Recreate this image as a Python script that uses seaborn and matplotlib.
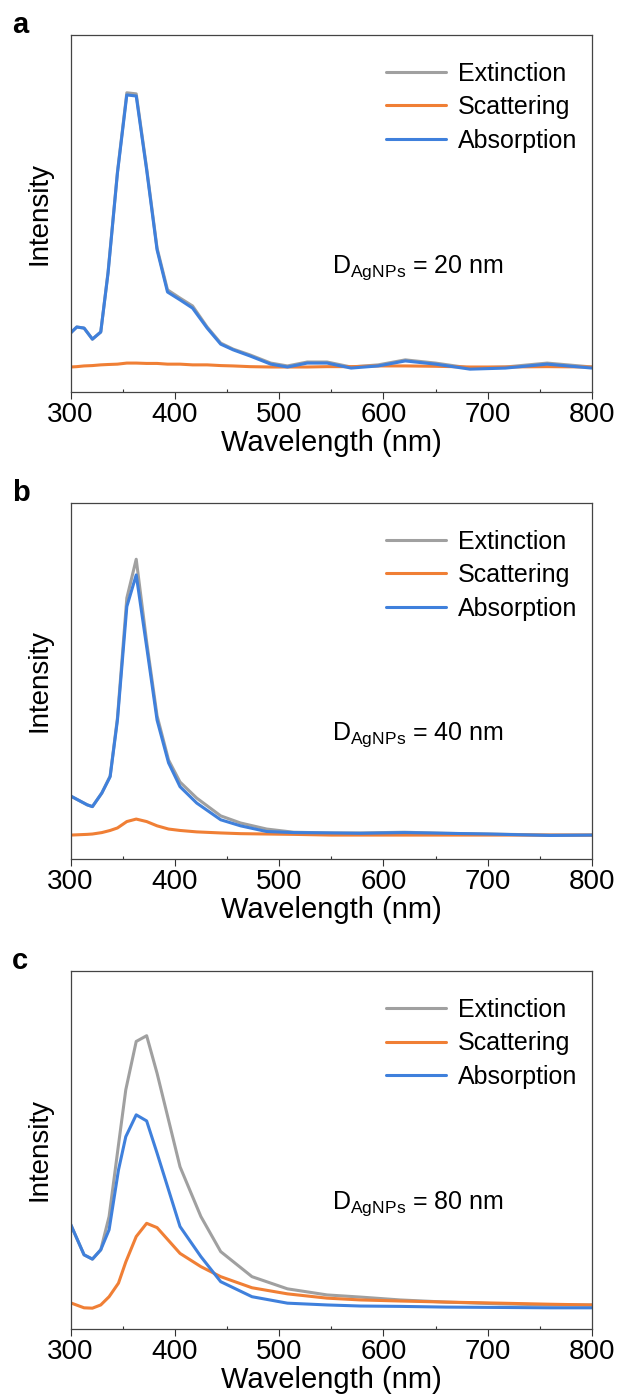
import pandas as pd
import seaborn as sns
import matplotlib.pyplot as plt

# panel a, D = 20 nm
wl_a = [300, 306, 313, 321, 329, 336, 345, 354, 363, 373, 383, 393, 405, 417, 431,
        444, 456, 472, 492, 508, 527, 546, 569, 595, 621, 650, 683, 717, 757, 800]
ext_a = [16.5, 18.2, 17.9, 14.8, 16.8, 33.6, 61.6, 83.8, 83.5, 62.7, 40.3, 28.6, 26.3, 24.1, 18.2,
         13.7, 12.0, 10.4, 8.1, 7.3, 8.4, 8.4, 7.0, 7.6, 9.0, 8.1, 6.7, 7.0, 8.1, 7.0]
sca_a = [7.0, 7.1, 7.3, 7.4, 7.6, 7.7, 7.8, 8.1, 8.1, 8.0, 8.0, 7.8, 7.8, 7.6, 7.6,
         7.4, 7.3, 7.1, 7.0, 7.0, 7.0, 7.1, 7.1, 7.3, 7.3, 7.2, 7.0, 7.0, 7.1, 7.0]
abs_a = [16.5, 18.2, 17.9, 14.8, 16.8, 33.3, 61.3, 83.2, 82.9, 62.2, 39.8, 28.0, 25.8, 23.5, 17.9,
         13.4, 11.8, 10.1, 7.8, 7.0, 8.1, 8.1, 6.7, 7.3, 8.7, 7.8, 6.4, 6.7, 7.8, 6.7]

# panel b, D = 40 nm
wl_b = [300, 316, 321, 330, 338, 345, 354, 363, 373, 383, 394, 405, 421, 444, 463,
        488, 514, 550, 578, 620, 660, 700, 760, 800]
ext_b = [17.7, 15.2, 14.7, 18.5, 23.3, 39.6, 73.3, 84.2, 61.0, 40.2, 27.8, 21.6, 17.1, 12.1, 10.1,
         8.4, 7.5, 7.3, 7.3, 7.5, 7.2, 7.0, 6.7, 6.7]
sca_b = [6.7, 6.9, 7.0, 7.4, 8.0, 8.7, 10.5, 11.2, 10.5, 9.3, 8.4, 8.0, 7.6, 7.3, 7.1,
         7.0, 6.9, 6.7, 6.7, 6.7, 6.7, 6.7, 6.7, 6.7]
abs_b = [17.7, 15.2, 14.7, 18.5, 23.1, 39.0, 70.9, 79.8, 59.6, 39.0, 27.0, 20.3, 15.7, 11.0, 9.3,
         7.7, 7.4, 7.3, 7.2, 7.4, 7.2, 7.0, 6.6, 6.7]

# panel c, D = 80 nm
wl_c = [300, 313, 321, 329, 337, 346, 353, 363, 373, 383, 405, 425, 444, 474, 508,
        546, 578, 616, 660, 712, 760, 800]
ext_c = [29.3, 20.7, 19.5, 22.1, 31.4, 51.4, 66.8, 80.3, 81.9, 71.4, 45.3, 31.4, 21.6, 14.6, 11.2,
         9.5, 8.9, 8.1, 7.5, 7.0, 6.7, 6.7]
sca_c = [7.3, 5.9, 5.8, 6.7, 9.0, 12.8, 18.7, 25.8, 29.5, 28.3, 21.1, 17.4, 14.6, 11.5, 9.8,
         8.6, 8.1, 7.8, 7.5, 7.2, 6.9, 6.7]
abs_c = [29.3, 20.7, 19.5, 22.1, 27.7, 44.4, 53.7, 59.8, 58.1, 49.1, 28.6, 20.2, 13.2, 9.0, 7.2,
         6.7, 6.4, 6.3, 6.1, 6.0, 5.9, 5.9]

series = ['Extinction', 'Scattering', 'Absorption']
colors = ['#A0A0A0', '#F07F35', '#3F80DC']
sizes = ['20', '40', '80']
panel_tags = ['a', 'b', 'c']

sns.set_style('ticks')
plt.rcParams['font.family'] = ['Liberation Sans', 'DejaVu Sans']
plt.rcParams['mathtext.fontset'] = 'custom'
plt.rcParams['mathtext.rm'] = 'Liberation Sans'
plt.rcParams['mathtext.it'] = 'Liberation Sans:italic'
plt.rcParams['text.color'] = 'black'
plt.rcParams['axes.labelcolor'] = 'black'


def make_df(wl, ext, sca, ab):
    rows = []
    for name, vals in zip(series, [ext, sca, ab]):
        for x, y in zip(wl, vals):
            rows.append({'Wavelength': x, 'Intensity': y, 'series': name})
    return pd.DataFrame(rows)


panels = [make_df(wl_a, ext_a, sca_a, abs_a),
          make_df(wl_b, ext_b, sca_b, abs_b),
          make_df(wl_c, ext_c, sca_c, abs_c)]

fig = plt.figure(figsize=(6.19, 13.98), dpi=100)
boxes = [[0.1139, 0.7196, 0.8425, 0.2554],
         [0.1139, 0.3856, 0.8425, 0.2546],
         [0.1139, 0.0494, 0.8425, 0.2561]]

for df, box, size, tag in zip(panels, boxes, sizes, panel_tags):
    ax = fig.add_axes(box)
    sns.lineplot(data=df, x='Wavelength', y='Intensity', hue='series',
                 hue_order=series, palette=colors, linewidth=2.2, ax=ax)
    ax.set_xlim(300, 800)
    ax.set_ylim(0, 100)
    ax.set_xticks([300, 400, 500, 600, 700, 800])
    ax.set_xticks([350, 450, 550, 650, 750], minor=True)
    ax.set_yticks([])
    ax.tick_params(axis='x', which='major', direction='out', length=5, width=0.8,
                   labelsize=20, pad=2, colors='#333333', labelcolor='black')
    ax.tick_params(axis='x', which='minor', direction='in', length=2, width=0.8,
                   colors='#333333')
    for sp in ax.spines.values():
        sp.set_color('#444444')
        sp.set_linewidth(0.9)
    ax.set_xlabel('Wavelength (nm)', fontsize=21, labelpad=1)
    ax.set_ylabel('Intensity', fontsize=20, labelpad=13)

    handles, labels = ax.get_legend_handles_labels()
    ax.legend(handles, labels, loc='upper right', bbox_to_anchor=(0.972, 0.925),
              frameon=False, fontsize=18, handlelength=2.4, handletextpad=0.5,
              labelspacing=0.38, borderpad=0, borderaxespad=0)

    ax.text(551, 33.5, r'D$_{\mathrm{AgNPs}}$ = ' + size + ' nm', fontsize=18,
            ha='left', va='baseline')
    ax.text(-0.112, 1.006, tag, transform=ax.transAxes, fontsize=21,
            fontweight='bold', ha='left', va='baseline')

fig.savefig('out.png', dpi=100)
